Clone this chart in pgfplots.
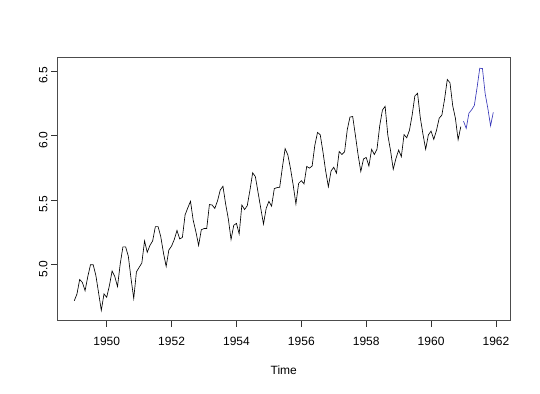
\documentclass[border=0pt]{standalone}
\usepackage{fontspec}
\setmainfont{Liberation Sans}
\usepackage{pgfplots}
\usepackage{pgfplotstable}
\pgfplotsset{compat=1.18}
\definecolor{fcblue}{RGB}{55,55,185}
\pgfplotstableread[row sep=\\]{
y\\
4.718\\ 4.771\\ 4.883\\ 4.860\\ 4.796\\ 4.905\\ 4.997\\ 4.997\\ 4.913\\ 4.779\\ 4.644\\ 4.771\\
4.745\\ 4.836\\ 4.949\\ 4.905\\ 4.828\\ 5.004\\ 5.136\\ 5.136\\ 5.063\\ 4.890\\ 4.736\\ 4.942\\
4.977\\ 5.011\\ 5.182\\ 5.094\\ 5.147\\ 5.182\\ 5.293\\ 5.293\\ 5.215\\ 5.088\\ 4.984\\ 5.112\\
5.142\\ 5.193\\ 5.263\\ 5.198\\ 5.209\\ 5.384\\ 5.438\\ 5.489\\ 5.342\\ 5.252\\ 5.147\\ 5.268\\
5.278\\ 5.278\\ 5.464\\ 5.460\\ 5.434\\ 5.493\\ 5.576\\ 5.606\\ 5.468\\ 5.352\\ 5.193\\ 5.303\\
5.318\\ 5.236\\ 5.460\\ 5.425\\ 5.455\\ 5.576\\ 5.710\\ 5.680\\ 5.557\\ 5.434\\ 5.313\\ 5.434\\
5.489\\ 5.451\\ 5.587\\ 5.595\\ 5.598\\ 5.753\\ 5.897\\ 5.849\\ 5.743\\ 5.613\\ 5.468\\ 5.628\\
5.649\\ 5.624\\ 5.759\\ 5.746\\ 5.762\\ 5.924\\ 6.023\\ 6.004\\ 5.872\\ 5.724\\ 5.602\\ 5.724\\
5.753\\ 5.707\\ 5.875\\ 5.852\\ 5.872\\ 6.045\\ 6.142\\ 6.146\\ 6.001\\ 5.849\\ 5.720\\ 5.817\\
5.829\\ 5.762\\ 5.892\\ 5.852\\ 5.894\\ 6.075\\ 6.196\\ 6.225\\ 6.001\\ 5.883\\ 5.737\\ 5.820\\
5.886\\ 5.835\\ 6.006\\ 5.981\\ 6.040\\ 6.157\\ 6.306\\ 6.326\\ 6.138\\ 6.009\\ 5.892\\ 6.004\\
6.033\\ 5.969\\ 6.038\\ 6.133\\ 6.157\\ 6.282\\ 6.433\\ 6.407\\ 6.230\\ 6.133\\ 5.966\\ 6.068\\
}\obs
\pgfplotstableread[row sep=\\]{
y\\
6.110\\ 6.054\\ 6.172\\ 6.198\\ 6.232\\ 6.368\\ 6.520\\ 6.518\\ 6.324\\ 6.209\\ 6.074\\ 6.178\\
}\fc
\begin{document}
\begin{tikzpicture}
\begin{axis}[
  at={(0,0)}, anchor=south west,
  scale only axis, width=452.5pt, height=262.7pt,
  xmin=1948.483, xmax=1962.433, ymin=4.569, ymax=6.605,
  xtick={1950,1952,...,1962}, ytick={5.0,5.5,6.0,6.5},
  tick align=outside, tick pos=left, major tick length=6.5pt,
  every tick/.style={black!80, line width=0.5pt},
  axis line style={line width=0.6pt, black!70},
  /pgf/number format/assume math mode=true,
  /pgf/number format/1000 sep={},
  yticklabel style={/pgf/number format/fixed, /pgf/number format/fixed zerofill, /pgf/number format/precision=1, rotate=90, anchor=south, xshift=-4.5pt, font=\fontsize{12}{14}\selectfont},
  xticklabel style={yshift=-7.5pt, font=\fontsize{12}{14}\selectfont},
  xlabel={Time}, xlabel style={yshift=-13pt, font=\fontsize{12}{14}\selectfont},
]
\addplot[black, line width=0.65pt] table[x expr={1949+\coordindex/12}, y=y] {\obs};
\addplot[fcblue, line width=0.65pt] table[x expr={1961+\coordindex/12}, y=y] {\fc};
\end{axis}
\path (-57.5pt,-73pt) rectangle (482.5pt,320pt);
\end{tikzpicture}
\end{document}
